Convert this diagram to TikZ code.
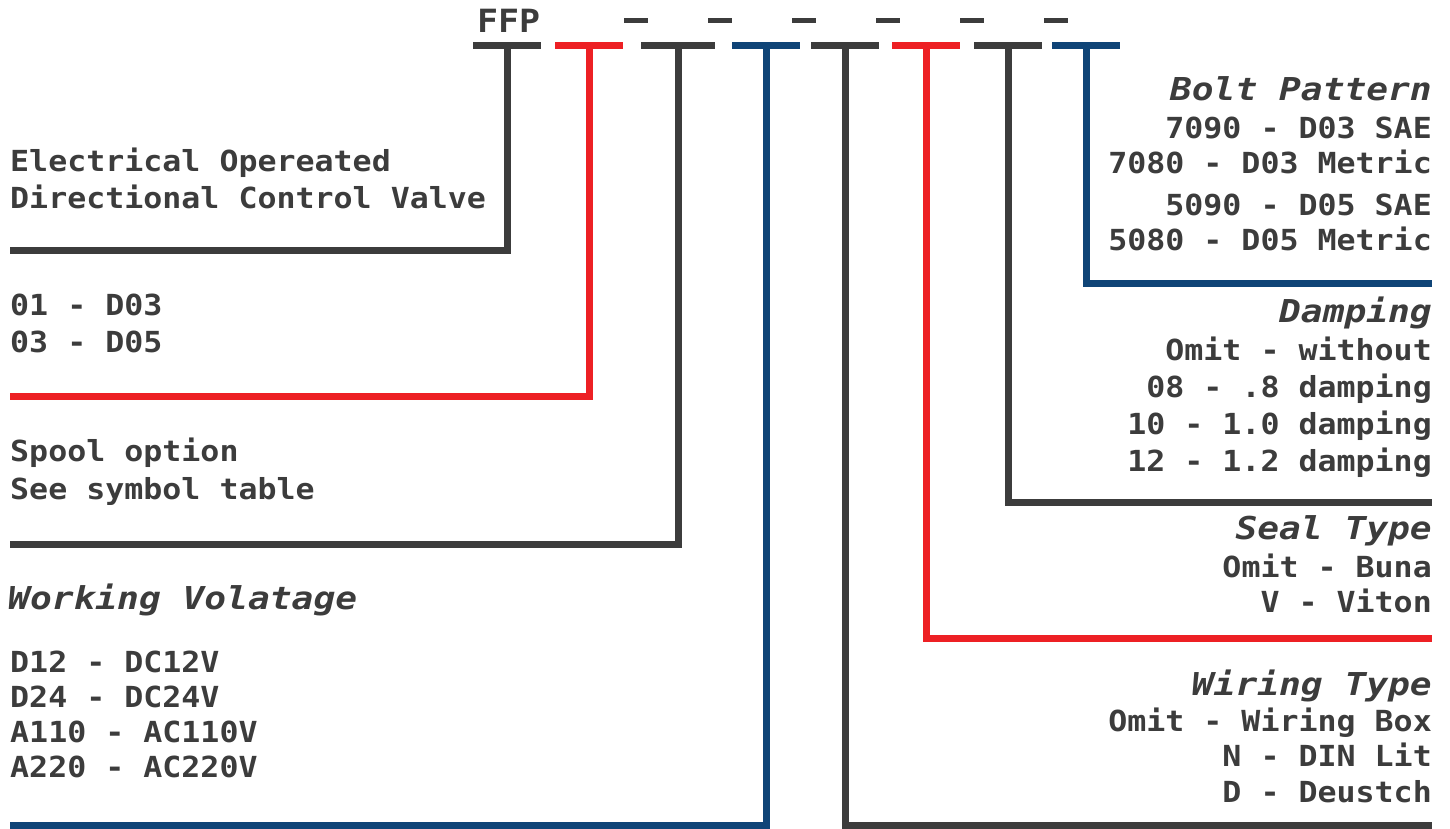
\documentclass[tikz,border=0pt]{standalone}
\usepackage{fontspec}
\newfontfamily\codefont{DejaVu Sans Mono}[FakeStretch=1.09]
\newfontfamily\headfont{DejaVu Sans Mono}[FakeStretch=1.15]
\usetikzlibrary{positioning}

\definecolor{ink}{HTML}{3C3C3C}
\definecolor{redline}{HTML}{ED2024}
\definecolor{blueline}{HTML}{0F4477}

\begin{document}
\begin{tikzpicture}[
    x=1pt, y=-1pt,
    segbar/.style={fill=#1, inner sep=0pt, minimum height=7pt, minimum width=68pt},
    dashbar/.style={fill=ink, inner sep=0pt, minimum height=5pt, minimum width=24pt},
    lead/.style={draw=#1, line width=7pt},
    itemtext/.style={font=\codefont\bfseries\fontsize{29}{37}\selectfont, text=ink, inner sep=0pt},
    headtext/.style={font=\headfont\bfseries\itshape\fontsize{31.5}{37}\selectfont, text=ink, inner sep=0pt},
    lefttext/.style={itemtext, align=left, anchor=base west},
    righttext/.style={itemtext, align=right, anchor=base east}
]
\useasboundingbox (0,0) rectangle (1450,828);

% Model code
\node[itemtext, font=\codefont\bfseries\fontsize{32}{37}\selectfont, anchor=base west] (ffp) at (477,32) {FFP};
\foreach \x [count=\i] in {636,720,804,888,972,1056}
    \node[dashbar] (d\i) at (\x,20) {};

% Code segments
\node[segbar=ink] (b1) at (507,45) {};
\node[segbar=redline] (b2) at (589,45) {};
\node[segbar=ink, minimum width=74pt] (b3) at (678,45) {};
\node[segbar=blueline] (b4) at (766,45) {};
\node[segbar=ink] (b5) at (845,45) {};
\node[segbar=redline] (b6) at (926,45) {};
\node[segbar=ink] (b7) at (1008,45) {};
\node[segbar=blueline] (b8) at (1086,45) {};

% Line ends
\coordinate (e1) at (10,250);
\coordinate (e2) at (10,396);
\coordinate (e3) at (10,544);
\coordinate (e4) at (10,825);
\coordinate (e5) at (1432,825);
\coordinate (e6) at (1432,638);
\coordinate (e7) at (1432,502);
\coordinate (e8) at (1432,283);

% Leads
\draw[lead=ink] (b1.center) |- (e1);
\draw[lead=redline] (b2.center) |- (e2);
\draw[lead=ink] (b3.center) |- (e3);
\draw[lead=blueline] (b4.center) |- (e4);
\draw[lead=ink] (b5.center) |- (e5);
\draw[lead=redline] (b6.center) |- (e6);
\draw[lead=ink] (b7.center) |- (e7);
\draw[lead=blueline] (b8.center) |- (e8);

% Left texts (base = last line)
\node[lefttext] (valve) at (10,208) {Electrical Opereated\\Directional Control Valve};
\node[lefttext] (size) at (10,352) {01 - D03\\03 - D05};
\node[lefttext, font=\codefont\bfseries\fontsize{29}{38}\selectfont] (spool) at (10,499) {Spool option\\See symbol table};
\node[headtext, anchor=base west] (volthead) at (8,609) {Working Volatage};
\node[lefttext, font=\codefont\bfseries\fontsize{29}{35}\selectfont] (volt) at (10,777) {D12 - DC12V\\D24 - DC24V\\A110 - AC110V\\A220 - AC220V};

% Right texts (base = last line)
\node[headtext, anchor=base east] (bolthead) at (1432,100) {Bolt Pattern};
\node[righttext, font=\codefont\bfseries\fontsize{29}{35}\selectfont] (bolt) at (1432,250) {7090 - D03 SAE\\7080 - D03 Metric\\[7pt]5090 - D05 SAE\\5080 - D05 Metric};
\node[headtext, anchor=base east] (damphead) at (1432,322) {Damping};
\node[righttext] (damp) at (1432,471) {Omit - without\\08 - .8 damping\\10 - 1.0 damping\\12 - 1.2 damping};
\node[headtext, anchor=base east] (sealhead) at (1432,539) {Seal Type};
\node[righttext, font=\codefont\bfseries\fontsize{29}{35}\selectfont] (seal) at (1432,612) {Omit - Buna\\V - Viton};
\node[headtext, anchor=base east] (wirehead) at (1432,695) {Wiring Type};
\node[righttext, font=\codefont\bfseries\fontsize{29}{35.5}\selectfont] (wire) at (1432,802) {Omit - Wiring Box\\N - DIN Lit\\D - Deustch};

\end{tikzpicture}
\end{document}
